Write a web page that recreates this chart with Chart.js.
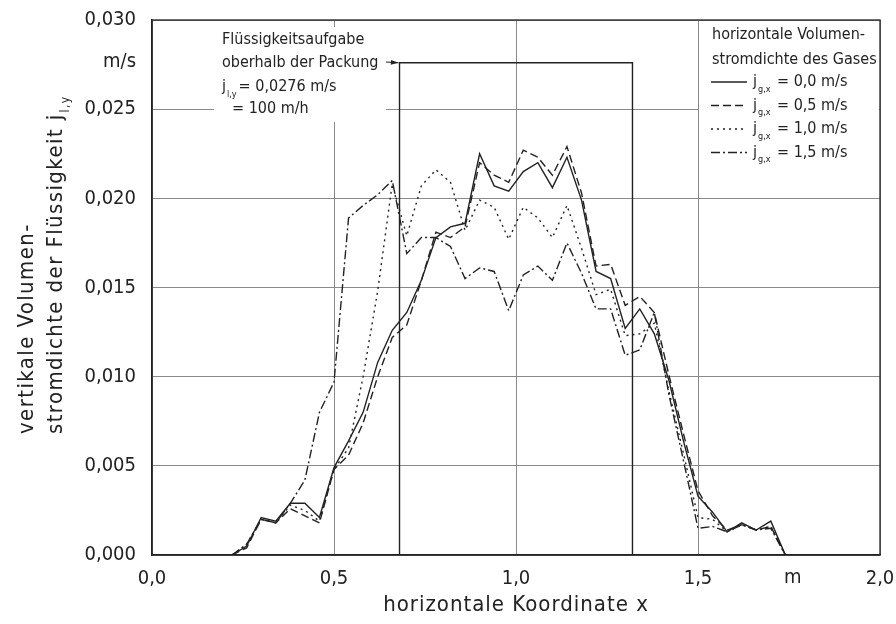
<!DOCTYPE html>
<html>
<head>
<meta charset="utf-8">
<script src="https://cdn.jsdelivr.net/npm/chart.js@4.4.0/dist/chart.umd.min.js"></script>
<style>
  html, body { margin: 0; padding: 0; background: #fff; }
  #wrap { width: 896px; height: 624px; }
</style>
</head>
<body>
<div id="wrap"><canvas id="chart" width="896" height="624"></canvas></div>
<script>
// horizontal coordinate x in m (measuring positions)
const xPos = [0.22, 0.26, 0.30, 0.34, 0.38, 0.42, 0.46, 0.50, 0.54, 0.58,
              0.62, 0.66, 0.70, 0.74, 0.78, 0.82, 0.86, 0.90, 0.94, 0.98,
              1.02, 1.06, 1.10, 1.14, 1.18, 1.22, 1.26, 1.30, 1.34, 1.38,
              1.42, 1.46, 1.50, 1.54, 1.58, 1.62, 1.66, 1.70, 1.74];

// vertical liquid flux j_l,y in m/s for each gas velocity
const gas00 = [0, 0.0005, 0.0021, 0.0019, 0.0029, 0.0029, 0.0021, 0.0049, 0.0064, 0.0080,
               0.0108, 0.0126, 0.0136, 0.0154, 0.0178, 0.0184, 0.0186, 0.0225, 0.0207, 0.0204,
               0.0215, 0.0220, 0.0206, 0.0223, 0.0199, 0.0159, 0.0155, 0.0127, 0.0138, 0.0124,
               0.0098, 0.0064, 0.0033, 0.0024, 0.0013, 0.0018, 0.0014, 0.0019, 0];
const gas05 = [0, 0.0004, 0.0020, 0.0018, 0.0026, 0.0022, 0.0018, 0.0048, 0.0056, 0.0074,
               0.0100, 0.0122, 0.0129, 0.0154, 0.0181, 0.0178, 0.0184, 0.0220, 0.0213, 0.0209,
               0.0227, 0.0223, 0.0213, 0.0229, 0.0203, 0.0162, 0.0163, 0.0140, 0.0145, 0.0136,
               0.0101, 0.0068, 0.0036, 0.0022, 0.0014, 0.0017, 0.0014, 0.0016, 0];
const gas10 = [0, 0.0006, 0.0020, 0.0018, 0.0028, 0.0025, 0.0019, 0.0048, 0.0060, 0.0100,
               0.0148, 0.0208, 0.0179, 0.0207, 0.0216, 0.0209, 0.0182, 0.0199, 0.0195, 0.0177,
               0.0195, 0.0189, 0.0178, 0.0196, 0.0172, 0.0146, 0.0149, 0.0123, 0.0124, 0.0130,
               0.0092, 0.0057, 0.0021, 0.0020, 0.0013, 0.0017, 0.0014, 0.0016, 0];
const gas15 = [0, 0.0006, 0.0020, 0.0018, 0.0029, 0.0042, 0.0080, 0.0097, 0.0189, 0.0196,
               0.0202, 0.0210, 0.0169, 0.0178, 0.0178, 0.0173, 0.0155, 0.0161, 0.0159, 0.0137,
               0.0157, 0.0162, 0.0154, 0.0175, 0.0158, 0.0138, 0.0138, 0.0112, 0.0115, 0.0136,
               0.0090, 0.0053, 0.0015, 0.0016, 0.0013, 0.0017, 0.0014, 0.0015, 0];

// liquid feed above the packing (0,0276 m/s between x = 0,68 and 1,32 m)
const feedX = [0.68, 0.68, 1.32, 1.32];
const feedY = [0, 0.0276, 0.0276, 0];

const legendLabels = ['= 0,0 m/s', '= 0,5 m/s', '= 1,0 m/s', '= 1,5 m/s'];
const xTicks = [0, 0.5, 1.0, 1.5, 2.0];

const FAM = "'DejaVu Sans Condensed', 'DejaVu Sans', sans-serif";
const INK = '#222';

function pts(ys) {
    return xPos.map((x, i) => ({ x: x, y: ys[i] }));
}

function line(label, ys, dash) {
    return {
        label: label,
        data: pts(ys),
        borderColor: INK,
        borderWidth: 1.4,
        borderDash: dash,
        pointRadius: 0,
        tension: 0,
        fill: false
    };
}

const datasets = [
    line(legendLabels[0], gas00, []),
    line(legendLabels[1], gas05, [8, 4]),
    line(legendLabels[2], gas10, [2, 4]),
    line(legendLabels[3], gas15, [9, 3, 2, 3]),
    {
        label: 'feed',
        data: feedX.map((x, i) => ({ x: x, y: feedY[i] })),
        borderColor: INK,
        borderWidth: 1.4,
        pointRadius: 0,
        tension: 0
    }
];

// text with a small subscript, returns the end x
function subText(ctx, main, sub, x, y, size, subSize) {
    ctx.font = size + 'px ' + FAM;
    ctx.fillText(main, x, y);
    let w = ctx.measureText(main).width;
    ctx.font = subSize + 'px ' + FAM;
    ctx.fillText(sub, x + w + 1, y + size * 0.45);
    return x + w + 1 + ctx.measureText(sub).width;
}

// keep the plot box where it is, labels may hang over the edges
function noOverflow(s) {
    s.paddingLeft = 0;
    s.paddingRight = 0;
    s.paddingTop = 0;
    s.paddingBottom = 0;
}

const decor = {
    id: 'decor',
    beforeDatasetsDraw(chart) {
        const { ctx, chartArea: a, scales: { x } } = chart;
        ctx.save();
        ctx.fillStyle = '#fff';
        // legend box and note box hide the grid
        const lx = x.getPixelForValue(1.5);
        ctx.fillRect(lx + 1, a.top + 1, a.right - lx - 2, 170);
        ctx.fillRect(214, 27, 172, 95);
        ctx.restore();
    },
    afterDraw(chart) {
        const { ctx, chartArea: a, scales: { x, y } } = chart;
        ctx.save();
        ctx.fillStyle = INK;
        ctx.strokeStyle = INK;

        // frame
        ctx.lineWidth = 1.3;
        ctx.strokeRect(a.left, a.top, a.right - a.left, a.bottom - a.top);

        ctx.textBaseline = 'middle';
        ctx.textAlign = 'right';
        ctx.font = '20px ' + FAM;
        ctx.fillText('m/s', 136, 62);
        ctx.textAlign = 'center';
        ctx.fillText('m', x.getPixelForValue(1.76), a.bottom + 23);

        // axis titles
        ctx.letterSpacing = '1px';
        ctx.font = '22px ' + FAM;
        ctx.fillText('horizontale Koordinate x', x.getPixelForValue(1.0), 605);

        ctx.textAlign = 'left';
        ctx.letterSpacing = '1.4px';
        ctx.save();
        ctx.translate(27, 434);
        ctx.rotate(-Math.PI / 2);
        ctx.font = '22px ' + FAM;
        ctx.fillText('vertikale Volumen-', 0, 0);
        ctx.restore();
        ctx.save();
        ctx.translate(56, 434);
        ctx.rotate(-Math.PI / 2);
        subText(ctx, 'stromdichte der Flüssigkeit j', 'l,y', 0, 0, 22, 12);
        ctx.restore();
        ctx.letterSpacing = '0px';

        // note on liquid feed
        ctx.font = '16px ' + FAM;
        ctx.fillText('Flüssigkeitsaufgabe', 222, 40);
        ctx.fillText('oberhalb der Packung', 222, 63);
        let ex = subText(ctx, 'j', 'l,y', 222, 87, 16, 9);
        ctx.font = '16px ' + FAM;
        ctx.fillText('= 0,0276 m/s', ex + 2, 87);
        ctx.fillText('= 100 m/h', 232, 109);

        // arrow to the feed profile
        const tx = x.getPixelForValue(feedX[1]) - 1;
        const ty = y.getPixelForValue(feedY[1]);
        ctx.lineWidth = 1;
        ctx.beginPath();
        ctx.moveTo(386, 62);
        ctx.lineTo(tx, ty);
        ctx.stroke();
        const ang = Math.atan2(ty - 62, tx - 386);
        ctx.beginPath();
        ctx.moveTo(tx, ty);
        ctx.lineTo(tx - 8 * Math.cos(ang - 0.3), ty - 8 * Math.sin(ang - 0.3));
        ctx.lineTo(tx - 8 * Math.cos(ang + 0.3), ty - 8 * Math.sin(ang + 0.3));
        ctx.closePath();
        ctx.fill();

        // legend
        ctx.font = '16px ' + FAM;
        ctx.fillText('horizontale Volumen-', 712, 35);
        ctx.fillText('stromdichte des Gases', 712, 60);
        chart.data.datasets.slice(0, 4).forEach((ds, i) => {
            const ly = 82 + i * 23.5;
            ctx.lineWidth = 1.3;
            ctx.setLineDash(ds.borderDash);
            ctx.beginPath();
            ctx.moveTo(711, ly);
            ctx.lineTo(747, ly);
            ctx.stroke();
            ctx.setLineDash([]);
            subText(ctx, 'j', 'g,x', 753, ly, 16, 9);
            ctx.font = '16px ' + FAM;
            ctx.fillText(ds.label, 777, ly);
        });
        ctx.restore();
    }
};

const ctx = document.getElementById('chart').getContext('2d');
const myChart = new Chart(ctx, {
    type: 'line',
    data: { datasets: datasets },
    options: {
        responsive: false,
        devicePixelRatio: 1,
        animation: false,
        layout: { padding: { top: 20, right: 16, left: 0, bottom: 0 } },
        plugins: { legend: { display: false }, tooltip: { enabled: false } },
        scales: {
            x: {
                type: 'linear',
                min: 0,
                max: 2,
                afterBuildTicks: (s) => { s.ticks = xTicks.map(v => ({ value: v })); },
                afterFit: (s) => { s.height = 69; noOverflow(s); },
                grid: { color: '#8a8a8a', lineWidth: 1, drawTicks: false },
                border: { color: INK, width: 1.3 },
                ticks: {
                    color: INK,
                    padding: 12,
                    maxRotation: 0,
                    font: { family: FAM, size: 20 },
                    callback: (v) => v.toFixed(1).replace('.', ',')
                }
            },
            y: {
                min: 0,
                max: 0.03,
                ticks: {
                    stepSize: 0.005,
                    color: INK,
                    padding: 16,
                    font: { family: FAM, size: 20 },
                    callback: (v) => v.toFixed(3).replace('.', ',')
                },
                afterFit: (s) => { s.width = 152; noOverflow(s); },
                grid: { color: '#8a8a8a', lineWidth: 1, drawTicks: false },
                border: { color: INK, width: 1.3 }
            }
        }
    },
    plugins: [decor]
});
</script>
</body>
</html>
